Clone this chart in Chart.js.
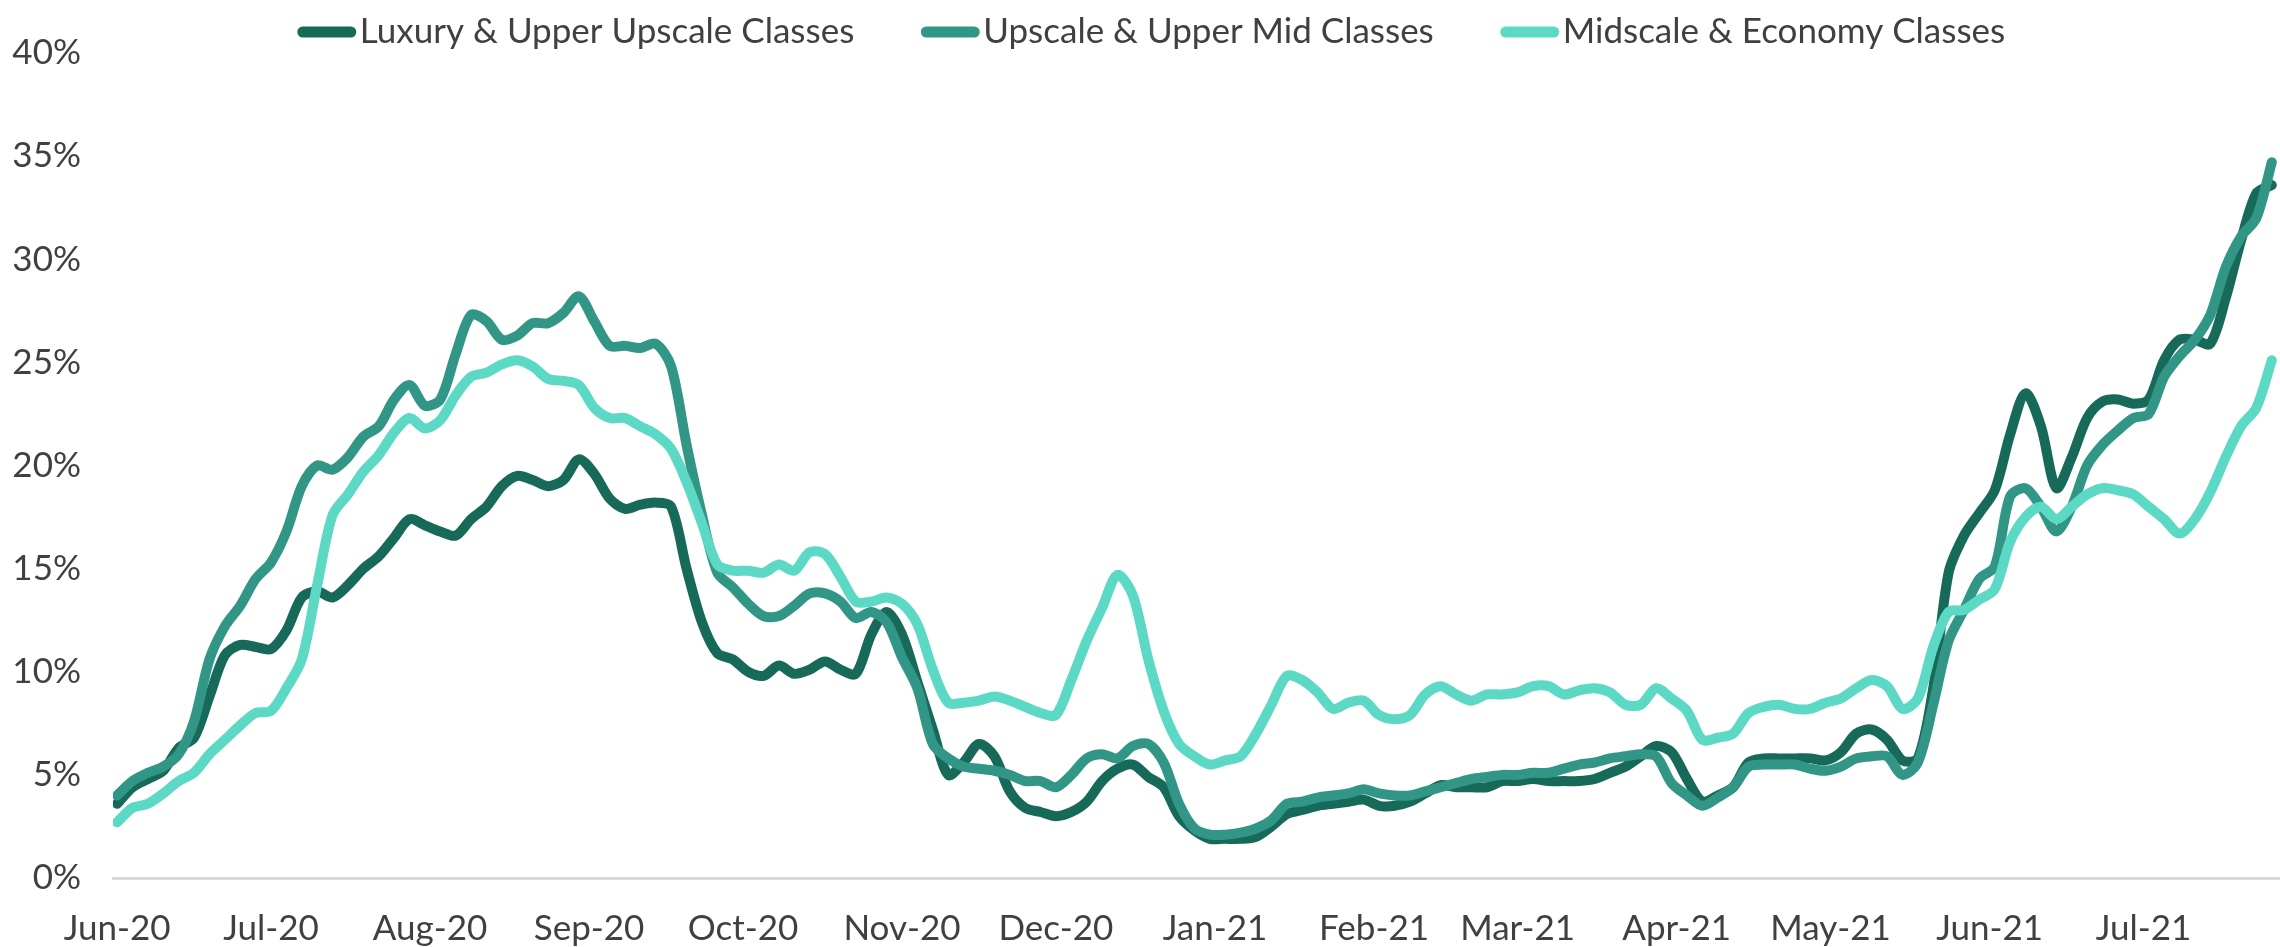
<!DOCTYPE html>
<html lang="en">
<head>
<meta charset="UTF-8">
<title>Hotel classes</title>
<script src="https://cdn.jsdelivr.net/npm/chart.js@4.4.1/dist/chart.umd.min.js"></script>
<style>
    html, body { margin: 0; padding: 0; background: #ffffff; }
</style>
</head>
<body>
<canvas id="classChart" width="2280" height="947"></canvas>
<script>
"use strict";

// Days since 1 June 2020 (read every third day off the picture)
const days = [
    0, 3, 6, 9, 12, 15, 18, 21, 24, 27,
    30, 33, 36, 39, 42, 45, 48, 51, 54, 57,
    60, 63, 66, 69, 72, 75, 78, 81, 84, 87,
    90, 93, 96, 99, 102, 105, 108, 111, 114, 117,
    120, 123, 126, 129, 132, 135, 138, 141, 144, 147,
    150, 153, 156, 159, 162, 165, 168, 171, 174, 177,
    180, 183, 186, 189, 192, 195, 198, 201, 204, 207,
    210, 213, 216, 219, 222, 225, 228, 231, 234, 237,
    240, 243, 246, 249, 252, 255, 258, 261, 264, 267,
    270, 273, 276, 279, 282, 285, 288, 291, 294, 297,
    300, 303, 306, 309, 312, 315, 318, 321, 324, 327,
    330, 333, 336, 339, 342, 345, 348, 351, 354, 357,
    360, 363, 366, 369, 372, 375, 378, 381, 384, 387,
    390, 393, 396, 399, 402, 405, 408, 411, 414, 417,
    420
];

const luxury = [
    3.6, 4.4, 4.8, 5.2, 6.3, 6.8, 8.8, 10.8, 11.3, 11.2,
    11.1, 12.0, 13.6, 13.9, 13.6, 14.2, 15.0, 15.6, 16.5, 17.4,
    17.1, 16.8, 16.6, 17.4, 18.0, 19.0, 19.5, 19.3, 19.0, 19.3,
    20.3, 19.6, 18.4, 17.9, 18.1, 18.2, 18.0, 15.0, 12.4, 10.9,
    10.6, 10.0, 9.8, 10.3, 9.9, 10.1, 10.5, 10.1, 9.9, 11.8,
    12.9, 11.8, 9.5, 7.2, 5.0, 5.6, 6.5, 5.9, 4.2, 3.4,
    3.2, 3.0, 3.2, 3.7, 4.7, 5.3, 5.5, 4.9, 4.4, 3.0,
    2.3, 1.9, 1.9, 1.9, 2.0, 2.5, 3.1, 3.3, 3.5, 3.6,
    3.7, 3.8, 3.5, 3.5, 3.7, 4.1, 4.5, 4.4, 4.4, 4.4,
    4.7, 4.7, 4.8, 4.7, 4.7, 4.7, 4.8, 5.1, 5.4, 5.9,
    6.4, 6.1, 4.8, 3.7, 4.0, 4.4, 5.6, 5.8, 5.8, 5.8,
    5.8, 5.7, 6.1, 7.0, 7.2, 6.7, 5.7, 5.8, 9.2, 14.8,
    16.6, 17.7, 18.8, 21.5, 23.5, 21.9, 18.9, 20.4, 22.3, 23.1,
    23.2, 23.0, 23.2, 25.1, 26.1, 26.1, 25.9, 28.1, 30.9, 33.2,
    33.6
];

const upscale = [
    4.0, 4.7, 5.1, 5.4, 6.0, 7.6, 10.6, 12.2, 13.2, 14.5,
    15.3, 16.8, 19.0, 20.0, 19.8, 20.4, 21.4, 21.9, 23.2, 23.9,
    22.9, 23.2, 25.4, 27.3, 27.0, 26.1, 26.3, 26.9, 26.9, 27.4,
    28.2, 27.0, 25.8, 25.8, 25.7, 25.9, 24.8, 21.0, 17.6, 14.8,
    14.1, 13.3, 12.7, 12.7, 13.2, 13.8, 13.8, 13.4, 12.6, 12.9,
    12.4, 10.7, 9.2, 6.5, 5.8, 5.4, 5.3, 5.2, 5.0, 4.7,
    4.7, 4.4, 5.0, 5.8, 6.0, 5.8, 6.4, 6.5, 5.6, 3.6,
    2.4, 2.1, 2.1, 2.2, 2.4, 2.8, 3.6, 3.7, 3.9, 4.0,
    4.1, 4.3, 4.1, 4.0, 4.0, 4.2, 4.4, 4.6, 4.8, 4.9,
    5.0, 5.0, 5.1, 5.1, 5.3, 5.5, 5.6, 5.8, 5.9, 6.0,
    5.9, 4.6, 4.0, 3.5, 3.9, 4.4, 5.4, 5.5, 5.5, 5.5,
    5.3, 5.2, 5.4, 5.8, 5.9, 5.9, 5.0, 5.6, 8.4, 11.5,
    13.0, 14.5, 15.1, 18.5, 18.9, 18.0, 16.8, 18.0, 20.0, 21.0,
    21.7, 22.3, 22.5, 24.3, 25.3, 26.1, 27.3, 29.6, 31.1, 32.0,
    34.7
];

const midscale = [
    2.7, 3.4, 3.6, 4.1, 4.7, 5.1, 6.0, 6.7, 7.4, 8.0,
    8.1, 9.2, 10.6, 14.2, 17.6, 18.6, 19.7, 20.5, 21.6, 22.3,
    21.8, 22.2, 23.4, 24.3, 24.5, 24.9, 25.1, 24.8, 24.2, 24.1,
    23.9, 22.8, 22.3, 22.3, 21.9, 21.5, 20.8, 19.2, 17.2, 15.2,
    14.9, 14.9, 14.8, 15.2, 14.9, 15.8, 15.7, 14.6, 13.4, 13.4,
    13.6, 13.3, 12.3, 10.1, 8.5, 8.5, 8.6, 8.8, 8.6, 8.3,
    8.0, 7.9, 9.6, 11.5, 13.1, 14.7, 13.7, 10.6, 8.1, 6.5,
    5.9, 5.5, 5.7, 5.9, 7.0, 8.4, 9.8, 9.6, 9.0, 8.2,
    8.5, 8.6, 7.9, 7.7, 7.9, 8.9, 9.3, 8.9, 8.6, 8.9,
    8.9, 9.0, 9.3, 9.3, 8.9, 9.1, 9.2, 9.0, 8.4, 8.4,
    9.2, 8.7, 8.1, 6.7, 6.8, 7.0, 8.0, 8.3, 8.4, 8.2,
    8.2, 8.5, 8.7, 9.2, 9.6, 9.3, 8.2, 8.7, 11.2, 12.9,
    13.0, 13.5, 14.0, 16.3, 17.5, 18.0, 17.4, 18.0, 18.6, 18.9,
    18.8, 18.6, 18.0, 17.4, 16.7, 17.4, 18.7, 20.4, 21.9, 22.8,
    25.1
];

// Month ticks on the x axis
const monthDays = [0, 30, 61, 92, 122, 153, 183, 214, 245, 273, 304, 334, 365, 395];
const monthLabels = ["Jun-20", "Jul-20", "Aug-20", "Sep-20", "Oct-20", "Nov-20", "Dec-20",
    "Jan-21", "Feb-21", "Mar-21", "Apr-21", "May-21", "Jun-21", "Jul-21"];

const seriesNames = ["Luxury & Upper Upscale Classes", "Upscale & Upper Mid Classes", "Midscale & Economy Classes"];
const seriesColors = ["#17695a", "#329686", "#5bd9c4"];

const fontName = "Lato, 'Open Sans', sans-serif";
const textColor = "#404040";

Chart.defaults.font.family = fontName;
Chart.defaults.font.size = 35;
Chart.defaults.color = textColor;

function toPoints(values) {
    return values.map((v, i) => ({ x: days[i], y: v }));
}

// Legend sits over the plot at the top, like the Excel one
const topLegend = {
    id: "topLegend",
    afterDraw(chart) {
        const ctx = chart.ctx;
        const sets = chart.data.datasets;
        const markLen = 60;
        const spacing = 66;
        ctx.save();
        ctx.font = "35px " + fontName;
        let widths = sets.map(ds => markLen + 3 + ctx.measureText(ds.label).width);
        let total = widths.reduce((a, b) => a + b, 0) + spacing * (sets.length - 1);
        let x = 1151 - total / 2;
        sets.forEach((ds, i) => {
            ctx.strokeStyle = ds.borderColor;
            ctx.lineWidth = 11;
            ctx.lineCap = "round";
            ctx.beginPath();
            ctx.moveTo(x + 6, 32);
            ctx.lineTo(x + markLen - 6, 32);
            ctx.stroke();
            ctx.fillStyle = textColor;
            ctx.textAlign = "left";
            ctx.textBaseline = "alphabetic";
            ctx.fillText(ds.label, x + markLen + 3, 43);
            x += widths[i] + spacing;
        });
        ctx.restore();
    }
};

const series = [luxury, upscale, midscale];

new Chart(document.getElementById("classChart"), {
    type: "line",
    data: {
        datasets: series.map((values, i) => ({
            label: seriesNames[i],
            data: toPoints(values),
            borderColor: seriesColors[i],
            backgroundColor: seriesColors[i],
            borderWidth: 10,
            pointRadius: 0,
            tension: 0.3,
            borderCapStyle: "round",
            borderJoinStyle: "round",
            fill: false,
            order: 3 - i // midscale drawn on top
        }))
    },
    options: {
        responsive: false,
        devicePixelRatio: 1,
        animation: false,
        layout: { padding: { top: 24, right: 0, bottom: 0, left: 0 } },
        plugins: {
            legend: { display: false },
            tooltip: { enabled: false }
        },
        scales: {
            x: {
                type: "linear",
                min: -0.8,
                max: 421.6,
                grid: { display: false, drawTicks: false },
                border: { display: true, color: "#d9d9d9", width: 3 },
                afterBuildTicks: scale => {
                    scale.ticks = monthDays.map(d => ({ value: d }));
                },
                afterFit: scale => { scale.height = 69; },
                ticks: {
                    autoSkip: false,
                    maxRotation: 0,
                    padding: 30,
                    callback: value => monthLabels[monthDays.indexOf(value)]
                }
            },
            y: {
                min: 0,
                max: 40,
                grid: { display: false, drawTicks: false },
                border: { display: false },
                afterFit: scale => { scale.width = 113; },
                ticks: {
                    stepSize: 5,
                    padding: 32,
                    callback: value => value + "%"
                }
            }
        }
    },
    plugins: [topLegend]
});
</script>
</body>
</html>
